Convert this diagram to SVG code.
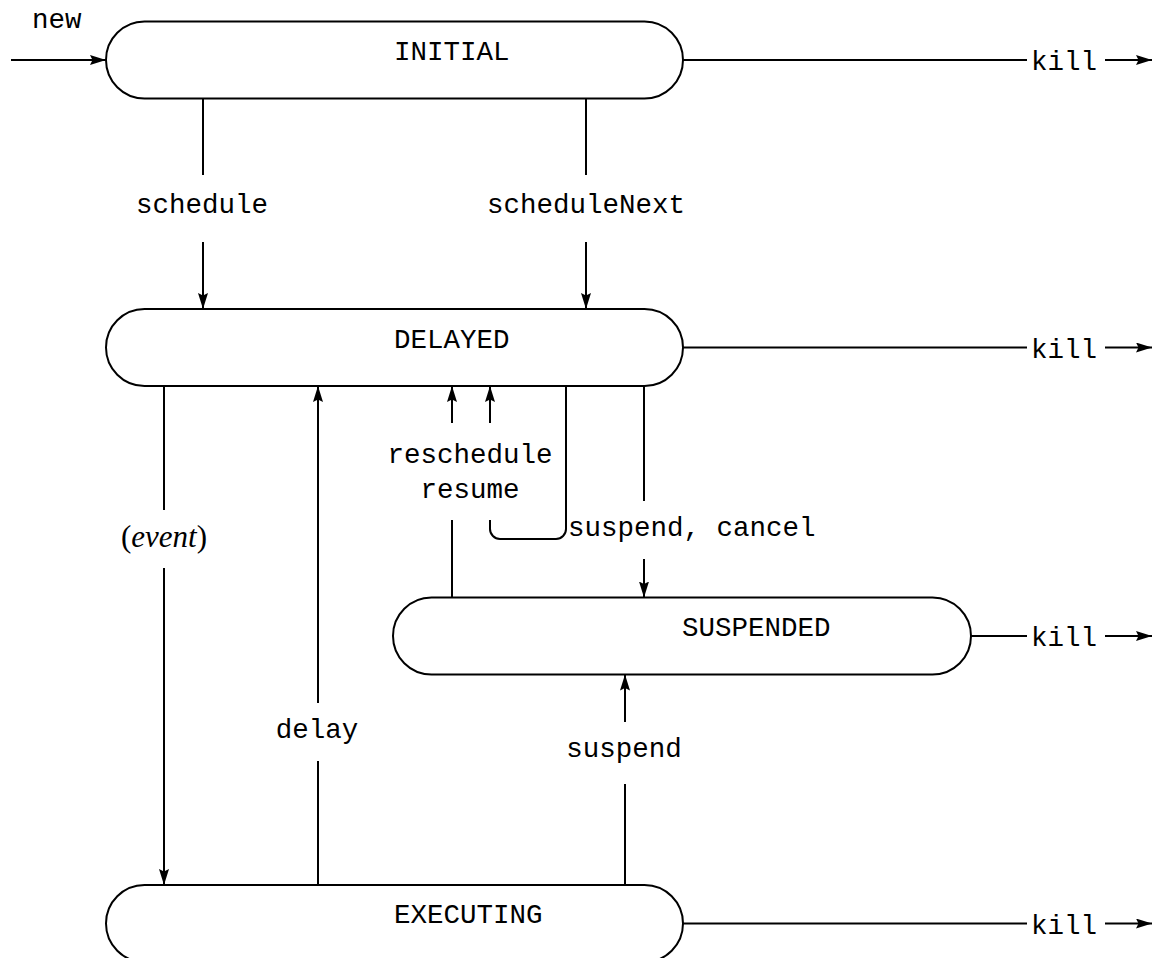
<svg xmlns="http://www.w3.org/2000/svg" width="1154" height="958" viewBox="0 0 1154 958">
<defs>
<style>
.box{fill:#fff;stroke:#000;stroke-width:2}
.ln{fill:none;stroke:#000;stroke-width:2}
.t{font-family:"Liberation Mono","DejaVu Sans Mono",monospace;font-size:27.5px;fill:#000}
.m{text-anchor:middle}
.it{font-family:"Liberation Serif","DejaVu Serif",serif;font-size:31px;fill:#000}
</style>
<marker id="ah" viewBox="0 0 16 10" refX="16" refY="5" markerWidth="16" markerHeight="10" markerUnits="userSpaceOnUse" orient="auto">
<path d="M0,0 L16,5 L0,10 L2.5,5 z" fill="#000"/>
</marker>
</defs>
<rect width="1154" height="958" fill="#fff"/>

<g id="connectors">
<line class="ln" x1="11" y1="60" x2="106" y2="60" marker-end="url(#ah)"/>
<text class="t" x="32" y="28">new</text>

<line class="ln" x1="683" y1="60" x2="1027" y2="60"/>
<text class="t" x="1031" y="70">kill</text>
<line class="ln" x1="1105" y1="60" x2="1152" y2="60" marker-end="url(#ah)"/>

<line class="ln" x1="683" y1="347.5" x2="1027" y2="347.5"/>
<text class="t" x="1031" y="357.5">kill</text>
<line class="ln" x1="1105" y1="347.5" x2="1152" y2="347.5" marker-end="url(#ah)"/>

<line class="ln" x1="971" y1="636" x2="1027" y2="636"/>
<text class="t" x="1031" y="646">kill</text>
<line class="ln" x1="1105" y1="636" x2="1152" y2="636" marker-end="url(#ah)"/>

<line class="ln" x1="683" y1="923.5" x2="1027" y2="923.5"/>
<text class="t" x="1031" y="933.5">kill</text>
<line class="ln" x1="1105" y1="923.5" x2="1152" y2="923.5" marker-end="url(#ah)"/>

<line class="ln" x1="203" y1="98.5" x2="203" y2="175"/>
<text class="t m" x="202" y="213">schedule</text>
<line class="ln" x1="203" y1="242" x2="203" y2="309" marker-end="url(#ah)"/>

<line class="ln" x1="586" y1="98.5" x2="586" y2="175"/>
<text class="t m" x="586" y="213">scheduleNext</text>
<line class="ln" x1="586" y1="242" x2="586" y2="309" marker-end="url(#ah)"/>

<line class="ln" x1="164" y1="386" x2="164" y2="510"/>
<text class="it m" x="164" y="547">(<tspan font-style="italic">event</tspan>)</text>
<line class="ln" x1="164" y1="568" x2="164" y2="885" marker-end="url(#ah)"/>

<line class="ln" x1="318" y1="885" x2="318" y2="761"/>
<text class="t m" x="317" y="738">delay</text>
<line class="ln" x1="318" y1="703" x2="318" y2="386" marker-end="url(#ah)"/>

<line class="ln" x1="625" y1="885" x2="625" y2="784"/>
<text class="t m" x="624" y="757">suspend</text>
<line class="ln" x1="625" y1="722" x2="625" y2="674.5" marker-end="url(#ah)"/>

<line class="ln" x1="452" y1="423" x2="452" y2="386" marker-end="url(#ah)"/>
<line class="ln" x1="490" y1="423" x2="490" y2="386" marker-end="url(#ah)"/>
<text class="t m" x="470" y="463">reschedule</text>
<text class="t m" x="470" y="498">resume</text>
<line class="ln" x1="452" y1="520" x2="452" y2="597.5"/>
<path class="ln" d="M490 520 V529 A10 10 0 0 0 500 539 H556 A10 10 0 0 0 566 529 V386"/>

<line class="ln" x1="644" y1="386" x2="644" y2="501"/>
<text class="t" x="568" y="536">suspend, cancel</text>
<line class="ln" x1="644" y1="559" x2="644" y2="597.5" marker-end="url(#ah)"/>
</g>

<g id="INITIAL">
<rect class="box" x="106" y="21.5" width="577" height="77" rx="38.5" ry="38.5"/>
<text class="t" x="394" y="60">INITIAL</text>
</g>
<g id="DELAYED">
<rect class="box" x="106" y="309" width="577" height="77" rx="38.5" ry="38.5"/>
<text class="t" x="394" y="348">DELAYED</text>
</g>
<g id="SUSPENDED">
<rect class="box" x="393" y="597.5" width="578" height="77" rx="38.5" ry="38.5"/>
<text class="t" x="682" y="636">SUSPENDED</text>
</g>
<g id="EXECUTING">
<rect class="box" x="106" y="885" width="577" height="77" rx="38.5" ry="38.5"/>
<text class="t" x="394" y="923">EXECUTING</text>
</g>
</svg>
